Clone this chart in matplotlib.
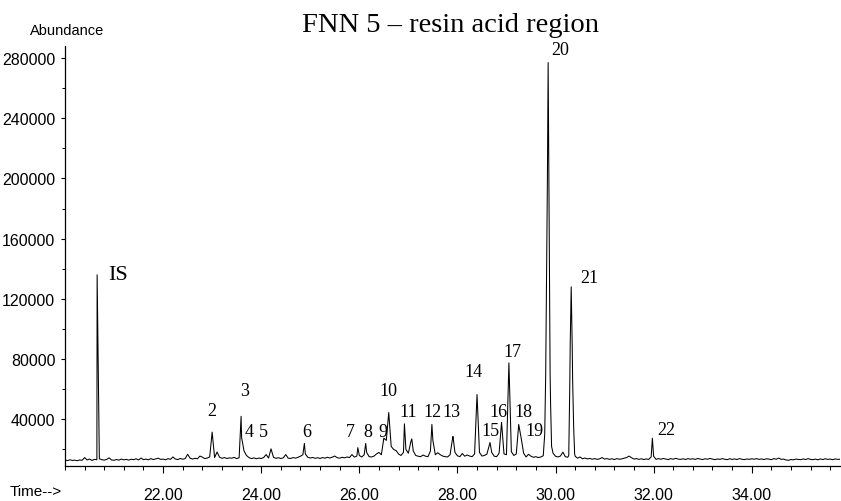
#!/usr/bin/env python3
"""
GC-MS trace, FNN 5 resin acid region (TIC, 20.0 - 35.8 min).
"""
import numpy as np
import matplotlib
matplotlib.use("Agg")
import matplotlib.pyplot as plt
from matplotlib.ticker import MultipleLocator, FormatStrFormatter

# ── scan grid: one sample every 0.05 min starting at 20.00 ─────────────────
SCAN_START = 20.00
SCAN_STEP = 0.05

# abundance / 1000 at each grid scan, one row per minute
scan_abund_k = [
    # 20.00 - 20.95
    12.9, 12.6, 13.1, 12.7, 12.9, 12.5, 13.0, 12.8, 14.6, 13.0,
    13.6, 12.7, 13.4, 13.2, 13.8, 13.2, 12.9, 13.4, 14.4, 13.0,
    # 21.00 - 21.95
    12.8, 13.3, 12.9, 13.6, 13.1, 13.4, 12.9, 13.5, 13.2, 13.8,
    13.0, 14.3, 13.2, 13.6, 13.1, 13.9, 13.3, 13.7, 14.2, 13.4,
    # 22.00 - 22.95
    13.6, 13.1, 13.9, 13.4, 15.0, 13.6, 13.3, 14.0, 13.5, 13.9,
    16.8, 14.2, 13.6, 14.1, 13.8, 15.6, 14.9, 13.9, 14.3, 15.0,
    # 23.00 - 23.95
    31.5, 14.6, 18.3, 14.9, 14.1, 14.6, 14.0, 14.4, 14.2, 14.7,
    13.9, 14.5, 28.0, 19.0, 16.0, 14.6, 13.9, 14.4, 13.8, 14.3,
    # 24.00 - 24.95
    14.0, 14.6, 16.6, 14.3, 20.4, 14.8, 14.1, 14.5, 14.0, 14.4,
    16.6, 14.2, 14.0, 14.6, 14.2, 14.8, 15.5, 16.5, 17.0, 14.8,
    # 25.00 - 25.95
    14.3, 14.7, 14.1, 14.5, 14.0, 14.6, 14.2, 14.8, 14.3, 14.9,
    15.6, 14.5, 14.2, 14.8, 14.4, 15.0, 14.6, 16.6, 14.9, 15.6,
    # 26.00 - 26.95
    16.0, 15.0, 16.5, 18.0, 15.2, 15.0, 15.6, 17.0, 18.0, 16.5,
    27.5, 26.0, 44.5, 22.0, 20.0, 19.2, 17.0, 16.0, 18.0, 20.0,
    # 27.00 - 27.95
    17.5, 25.0, 19.0, 16.0, 15.5, 15.2, 16.3, 15.5, 15.2, 19.0,
    26.0, 16.5, 17.8, 16.5, 15.6, 15.2, 15.0, 16.5, 27.0, 18.0,
    # 28.00 - 28.95
    15.8, 15.2, 17.3, 15.5, 16.3, 15.6, 15.2, 17.0, 56.5, 18.0,
    15.6, 16.0, 16.8, 23.0, 18.0, 15.5, 15.2, 17.5, 38.0, 17.0,
    # 29.00 - 29.95
    16.5, 77.5, 18.5, 16.0, 17.0, 36.6, 27.5, 17.5, 15.0, 16.8,
    15.5, 14.8, 15.2, 14.6, 15.0, 15.8, 70.0, 277.0, 50.0, 17.5,
    # 30.00 - 30.95
    15.5, 15.0, 15.6, 18.2, 15.2, 14.8, 90.0, 65.0, 15.5, 14.2,
    15.0, 13.8, 14.3, 13.7, 14.0, 13.5, 13.9, 13.4, 13.8, 14.6,
    # 31.00 - 31.95
    13.6, 13.9, 13.4, 13.8, 13.3, 13.9, 13.5, 13.7, 14.2, 14.6,
    15.6, 14.5, 13.6, 13.9, 13.4, 13.8, 13.3, 13.7, 13.4, 15.0,
    # 32.00 - 32.95
    15.5, 13.4, 13.9, 13.5, 14.0, 13.6, 13.3, 13.9, 13.5, 14.1,
    13.6, 13.4, 13.8, 13.3, 13.9, 13.5, 13.8, 13.4, 14.0, 13.6,
    # 33.00 - 33.95
    13.3, 13.8, 13.5, 14.0, 13.6, 13.2, 13.7, 13.4, 13.9, 13.5,
    13.2, 13.8, 13.4, 13.7, 13.3, 13.9, 13.5, 13.2, 13.7, 13.4,
    # 34.00 - 34.95
    13.8, 13.5, 13.9, 13.4, 13.7, 13.3, 13.8, 13.6, 13.2, 13.9,
    13.5, 14.3, 13.4, 13.6, 13.0, 12.8, 13.3, 13.1, 13.6, 13.4,
    # 35.00 - 35.80
    13.2, 13.7, 13.3, 13.9, 13.4, 13.2, 13.6, 13.1, 13.7, 13.3,
    13.8, 13.4, 13.6, 13.2, 13.7, 13.4, 13.5,
]

# extra samples off the grid: apexes and flanks of the sharp peaks
peak_time = [20.655, 23.59, 24.88, 25.97, 26.13, 26.92, 27.07, 27.48,
             27.91, 28.665, 29.78, 29.835, 29.865, 29.89, 29.92,
             30.27, 30.29, 30.32, 30.34, 30.37, 30.39, 31.975]
peak_abund_k = [136.0, 42.0, 24.0, 21.2, 24.0, 37.0, 27.0, 36.6,
                28.6, 24.6, 30.0, 200.0, 200.0, 70.0, 22.0,
                16.0, 60.0, 128.0, 90.0, 35.0, 17.0, 27.5]

# peak labels: text, label time, label abundance
label_text = ["2", "3", "4", "5", "6", "7", "8", "9", "10", "11", "12",
              "13", "14", "15", "16", "17", "18", "19", "20", "21", "22"]
label_time = [23.00, 23.67, 23.75, 24.04, 24.93, 25.81, 26.18, 26.48,
              26.60, 26.99, 27.50, 27.87, 28.33, 28.68, 28.84, 29.13,
              29.35, 29.58, 30.09, 30.68, 32.26]
label_abund = [46000, 59000, 32000, 32000, 32000, 32000, 32000, 32000,
               59000, 45000, 45000, 45000, 72000, 32500, 45000, 85000,
               45000, 32500, 286000, 134000, 33000]

x_ticks = [22.0, 24.0, 26.0, 28.0, 30.0, 32.0, 34.0]
y_ticks = [40000, 80000, 120000, 160000, 200000, 240000, 280000]


def build_trace():
    n = len(scan_abund_k)
    grid_t = np.round(SCAN_START + SCAN_STEP * np.arange(n), 3)
    t = np.concatenate([grid_t, np.array(peak_time)])
    v = np.concatenate([np.array(scan_abund_k), np.array(peak_abund_k)]) * 1000
    order = np.argsort(t, kind="stable")
    return t[order], v[order]


def main():
    sans = ["Liberation Sans", "DejaVu Sans"]
    serif = ["Liberation Serif", "DejaVu Serif"]
    plt.rcParams["font.family"] = sans

    t, v = build_trace()

    fig = plt.figure(figsize=(8.41, 5.02), dpi=100)
    ax = fig.add_axes([65 / 841, 35 / 502, 775 / 841, 420 / 502])

    ax.plot(t, v, color="black", linewidth=0.75)

    ax.set_xlim(20.0, 35.8)
    ax.set_ylim(9000, 288000)

    for side in ("top", "right"):
        ax.spines[side].set_visible(False)
    for side in ("left", "bottom"):
        ax.spines[side].set_linewidth(0.9)

    ax.set_xticks(x_ticks)
    ax.xaxis.set_major_formatter(FormatStrFormatter("%.2f"))
    ax.xaxis.set_minor_locator(MultipleLocator(0.4))
    ax.set_yticks(y_ticks)
    ax.yaxis.set_minor_locator(MultipleLocator(20000))
    ax.tick_params(axis="x", which="major", direction="out", length=5,
                   width=0.8, pad=10, labelsize=11.5)
    ax.tick_params(axis="x", which="minor", direction="out", length=3, width=0.7)
    ax.tick_params(axis="y", which="major", direction="out", length=3,
                   width=0.8, pad=4, labelsize=11.5)
    ax.tick_params(axis="y", which="minor", direction="out", length=2, width=0.7)

    # peak labels
    ax.text(20.88, 136000, "IS", family=serif, fontsize=16,
            ha="left", va="center")
    for txt, lt, la in zip(label_text, label_time, label_abund):
        ax.text(lt, la, txt, family=serif, fontsize=13,
                ha="center", va="center", clip_on=False)

    fig.text(450 / 841, 1 - 25 / 502, "FNN 5 \u2013 resin acid region",
             family=serif, fontsize=20.5, ha="center", va="center")
    fig.text(30 / 841, 1 - 31 / 502, "Abundance", fontsize=10.5,
             ha="left", va="center")
    fig.text(10 / 841, 1 - 492 / 502, "Time-->", fontsize=11,
             ha="left", va="center")

    fig.savefig("out.png", dpi=100)


if __name__ == "__main__":
    main()
